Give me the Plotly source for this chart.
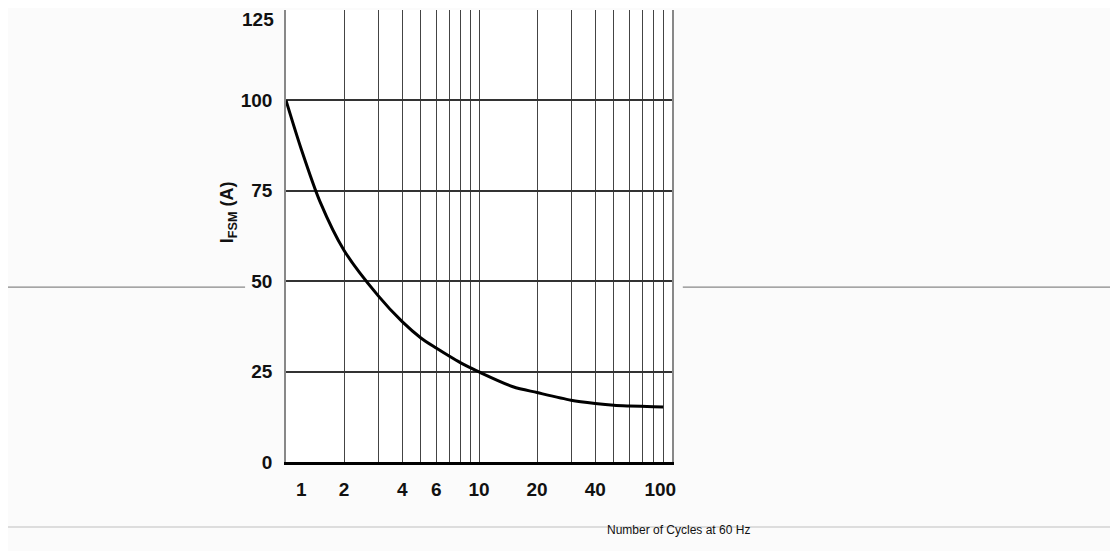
import plotly.graph_objects as go

# Data
cycles = [1, 1.2, 1.5, 2, 3, 4, 5, 6, 7, 8, 9, 10, 15, 20, 30, 40, 50, 60, 80, 90]
ifsm = [100, 86.5, 72, 58.5, 46, 38.8, 34.3, 31.5, 29.3, 27.5, 26.1, 24.9, 20.8, 19.2,
        17.1, 16.2, 15.7, 15.5, 15.3, 15.2]

x_tick_pos = [1.2, 2, 4, 6, 10, 20, 40, 87]
x_tick_text = ["1", "2", "4", "6", "10", "20", "40", "100"]
x_grid = [1, 2, 3, 4, 5, 6, 7, 8, 9, 10, 20, 30, 40, 50, 60, 70, 80, 90, 100]
y_ticks = [0, 25, 50, 75, 100, 125]
y_tick_text = ["0", "25", "50", "75", "100", ""]
top_label = "125"

FONT = "Liberation Sans, Arial, sans-serif"

fig = go.Figure()
fig.add_trace(go.Scatter(
    x=cycles, y=ifsm, mode="lines",
    line=dict(color="#000000", width=3, shape="spline", smoothing=0.8),
    showlegend=False, hoverinfo="skip",
))

fig.update_layout(
    width=1118, height=551,
    margin=dict(l=278, r=454, t=2, b=97),
    paper_bgcolor="#fbfbfb",
    plot_bgcolor="#ffffff",
    font=dict(family=FONT, size=19, color="#111111"),
    showlegend=False,
)

fig.update_xaxes(
    type="log", range=[0, 2], automargin=False,
    tickmode="array", tickvals=x_tick_pos, ticktext=x_tick_text,
    showgrid=False, ticks="outside", ticklen=8, tickcolor="rgba(0,0,0,0)",
    tickfont=dict(family=FONT, size=19, color="#111111", weight="bold"),
    ticklabeloverflow="allow",
    minor=dict(tickmode="array", tickvals=x_grid, showgrid=True,
               gridcolor="#444444", gridwidth=1.3, ticks=""),
    showline=True, linecolor="#000000", linewidth=3,
    zeroline=False,
)
fig.update_yaxes(
    range=[0, 125], tickmode="array", tickvals=y_ticks, ticktext=y_tick_text,
    automargin=False,
    showgrid=True, gridcolor="#333333", gridwidth=1.5,
    ticks="outside", ticklen=8, tickcolor="rgba(0,0,0,0)",
    tickfont=dict(family=FONT, size=19, color="#111111", weight="bold"),
    ticklabeloverflow="allow",
    showline=True, linecolor="#888888", linewidth=1.5, mirror=True,
    zeroline=False,
)

# top tick label, shown lowered as in the (partly cut) reference
fig.add_annotation(
    text=top_label, xref="paper", yref="paper",
    x=-0.026, y=0.978, xanchor="right", yanchor="middle", showarrow=False,
    font=dict(family=FONT, size=19, color="#111111", weight="bold"),
)

# y-axis title (placed as in the reference, above the vertical centre)
fig.add_annotation(
    text="I<sub>FSM</sub> (A)", xref="paper", yref="paper",
    x=-0.15, y=0.553, xanchor="center", yanchor="middle", textangle=-90,
    showarrow=False, font=dict(family=FONT, size=18, color="#111111", weight="bold"),
)

fig.add_annotation(
    text="Number of Cycles at 60 Hz", xref="paper", yref="paper",
    x=1.018, y=-0.150, xanchor="center", yanchor="middle", showarrow=False,
    font=dict(family=FONT, size=12, color="#111111"),
)

# scan artifact lines seen in the reference
fig.add_shape(type="line", xref="paper", yref="paper", x0=-0.741, x1=-0.106, y0=0.387, y1=0.387,
              line=dict(color="#888888", width=1.2), layer="below")
fig.add_shape(type="line", xref="paper", yref="paper", x0=1.028, x1=2.16, y0=0.387, y1=0.387,
              line=dict(color="#888888", width=1.2), layer="below")
fig.add_shape(type="line", xref="paper", yref="paper", x0=-0.741, x1=2.16, y0=-0.144, y1=-0.144,
              line=dict(color="#dddddd", width=2), layer="below")

fig.write_html("out.html")
